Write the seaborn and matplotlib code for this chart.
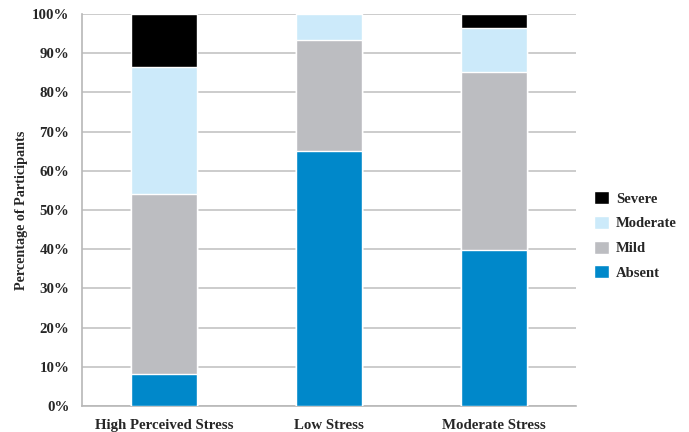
import numpy as np
import pandas as pd
import matplotlib
matplotlib.use("Agg")
import matplotlib.pyplot as plt
import seaborn as sns
from matplotlib.ticker import PercentFormatter

# Stress groups and severity shares (percent of participants)
groups = ["High Perceived Stress", "Low Stress", "Moderate Stress"]
absent = [8.1, 65.1, 39.8]
mild = [45.9, 28.3, 45.4]
moderate = [32.4, 6.6, 11.1]
severe = [13.6, 0.0, 3.7]

levels = ["Absent", "Mild", "Moderate", "Severe"]
colors = {"Absent": "#0088CA", "Mild": "#BCBDC1", "Moderate": "#CCEAFA", "Severe": "#000000"}

df = pd.DataFrame({"group": groups, "Absent": absent, "Mild": mild,
                   "Moderate": moderate, "Severe": severe})
# cumulative tops for stacking by overlaying bars
cum = df[levels].cumsum(axis=1)
cum["group"] = df["group"]

sns.set_style("white")
plt.rcParams["font.family"] = ["Liberation Serif", "DejaVu Serif"]
plt.rcParams["font.weight"] = "bold"

fig = plt.figure(figsize=(6.89, 4.32), dpi=100)
ax = fig.add_axes([0.119, 0.060, 0.717, 0.908])

for lvl in reversed(levels):
    sns.barplot(data=cum, x="group", y=lvl, color=colors[lvl], width=0.4,
                label=lvl, ax=ax, zorder=3, saturation=1)

ax.set_ylim(0, 100)
ax.set_xlim(-0.5, 2.5)
ax.set_yticks(np.arange(0, 101, 10))
ax.yaxis.set_major_formatter(PercentFormatter(decimals=0))
ax.grid(axis="y", color="#C4C4C4", linewidth=1.2, zorder=0)
ax.set_axisbelow(True)
for s in ["top", "right"]:
    ax.spines[s].set_visible(False)
for s in ["left", "bottom"]:
    ax.spines[s].set_color("#B8B8B8")
    ax.spines[s].set_linewidth(1.2)
ax.tick_params(axis="y", length=0, labelsize=10.7, pad=9)
ax.tick_params(axis="x", length=0, labelsize=10.7, pad=9)
for t in ax.get_xticklabels() + ax.get_yticklabels():
    t.set_fontweight("bold")
ax.set_xlabel("")
ax.set_ylabel("Percentage of Participants", fontsize=10.2, fontweight="bold", labelpad=3)

ax.legend(loc="center left", bbox_to_anchor=(1.01, 0.435), frameon=False,
          handlelength=1.0, handleheight=1.0, labelspacing=0.7, handletextpad=0.5,
          prop={"weight": "bold", "size": 10.5})

fig.savefig("out.png", dpi=100)
